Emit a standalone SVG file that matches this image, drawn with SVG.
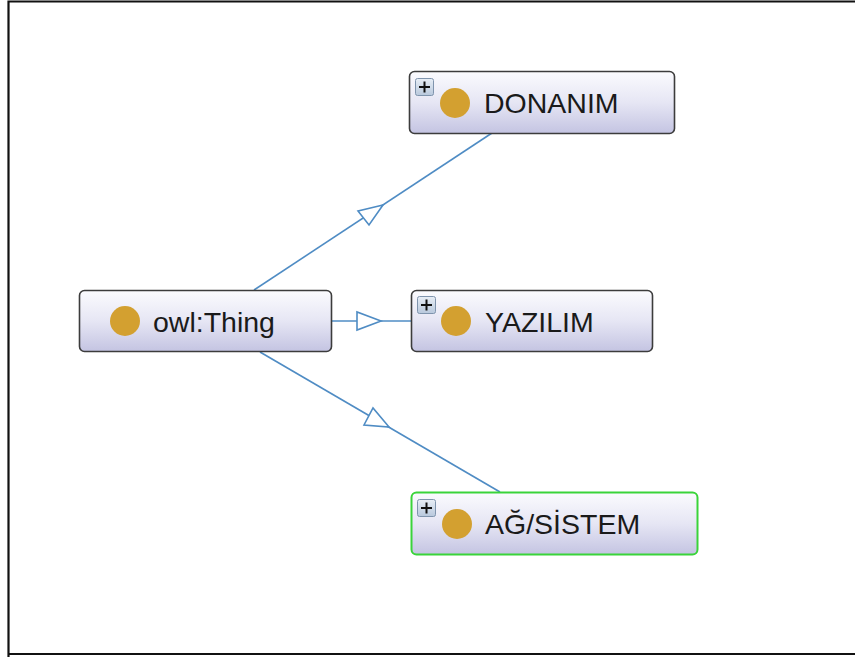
<svg xmlns="http://www.w3.org/2000/svg" width="855" height="657" viewBox="0 0 855 657">
  <defs>
    <linearGradient id="nodeFill" x1="0" y1="0" x2="0" y2="1">
      <stop offset="0" stop-color="#fbfbfe"/>
      <stop offset="0.5" stop-color="#e6e6f4"/>
      <stop offset="1" stop-color="#c4c4e2"/>
    </linearGradient>
    <linearGradient id="plusFill" x1="0" y1="0" x2="0" y2="1">
      <stop offset="0" stop-color="#e8eef6"/>
      <stop offset="1" stop-color="#b8c8dc"/>
    </linearGradient>
  </defs>
  <style>
    .node { fill: url(#nodeFill); stroke: #3c3c3c; stroke-width: 1.6; }
    .sel { stroke: #3ad43a; stroke-width: 2; }
    .dot { fill: #d3a030; }
    .lbl { font-family: "Liberation Sans", Arial, sans-serif; font-size: 28.5px; fill: #1a1a1a; }
    .plus { fill: url(#plusFill); stroke: #7f94ad; stroke-width: 1; }
    .plusmark { stroke: #111; stroke-width: 2; }
    .edge { stroke: #4f8cc4; stroke-width: 1.6; fill: none; }
    .head { stroke: #4f8cc4; stroke-width: 1.6; fill: #fff; stroke-linejoin: miter; }
  </style>
  <rect width="855" height="657" fill="#fff"/>
  <!-- frame -->
  <path d="M8.5 657 V1.5 H855 M8.5 654 H855" fill="none" stroke="#111" stroke-width="2.2"/>

  <g id="connectors">
    <line class="edge" x1="254" y1="290" x2="492" y2="133"/>
    <polygon class="head" points="383,205 358,211 369,225"/>
    <line class="edge" x1="331" y1="321" x2="411" y2="321"/>
    <polygon class="head" points="381,321 357,312 357,330"/>
    <line class="edge" x1="260" y1="352" x2="500" y2="492"/>
    <polygon class="head" points="389,427 373,408 364,425"/>
  </g>

  <g id="owl-thing">
    <rect class="node" x="79.5" y="290.5" width="252" height="61" rx="5"/>
    <circle class="dot" cx="125" cy="321" r="15"/>
    <text class="lbl" x="153" y="332">owl:Thing</text>
  </g>

  <g id="donanim">
    <rect class="node" x="409.5" y="71.5" width="265" height="62" rx="5"/>
    <rect class="plus" x="415.5" y="78.5" width="18" height="17" rx="2"/>
    <path class="plusmark" d="M419 87 H430 M424.5 81.5 V92.5"/>
    <circle class="dot" cx="455" cy="103" r="15"/>
    <text class="lbl" x="484" y="113">DONANIM</text>
  </g>

  <g id="yazilim">
    <rect class="node" x="411.5" y="290.5" width="241" height="61" rx="5"/>
    <rect class="plus" x="417.5" y="296.5" width="18" height="17" rx="2"/>
    <path class="plusmark" d="M421 305 H432 M426.5 299.5 V310.5"/>
    <circle class="dot" cx="456" cy="321" r="15"/>
    <text class="lbl" x="485" y="332">YAZILIM</text>
  </g>

  <g id="ag-sistem">
    <rect class="node sel" x="411.5" y="492.5" width="286" height="62" rx="5"/>
    <rect class="plus" x="417.5" y="499.5" width="18" height="17" rx="2"/>
    <path class="plusmark" d="M421 508 H432 M426.5 502.5 V513.5"/>
    <circle class="dot" cx="457" cy="524" r="15"/>
    <text class="lbl" x="485" y="534">AĞ/SİSTEM</text>
  </g>
</svg>
